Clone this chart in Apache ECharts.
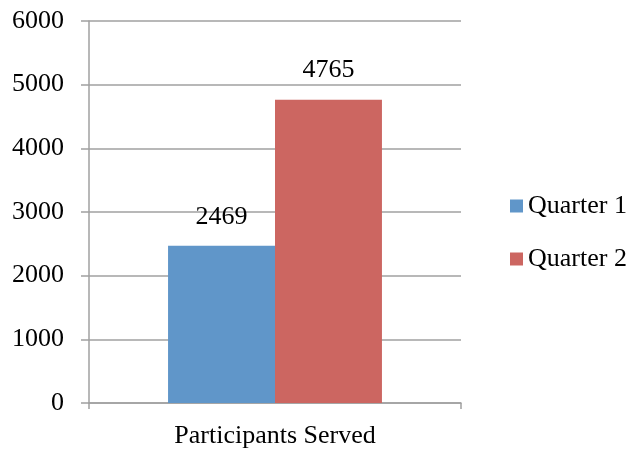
<!DOCTYPE html>
<html>
<head>
<meta charset="utf-8">
<script src="https://cdn.jsdelivr.net/npm/echarts@6/dist/echarts.min.js"></script>
<style>
html,body{margin:0;padding:0;background:#fff;}
#chart{width:633px;height:450px;}
</style>
</head>
<body>
<div id="chart"></div>
<script>
var categories = ['Participants Served'];
var seriesNames = ['Quarter 1', 'Quarter 2'];
var quarter1 = [2469];
var quarter2 = [4765];
var yTicks = [0, 1000, 2000, 3000, 4000, 5000, 6000];

var FONT = "'Liberation Serif', 'Times New Roman', serif";
var GRAY = '#a0a0a0';
var FS = 26;
var chart = echarts.init(document.getElementById('chart'));
chart.setOption({
  animation: false,
  textStyle: {fontFamily: FONT},
  grid: {left: 89, right: 172, top: 21, bottom: 47, containLabel: false},
  legend: {
    orient: 'vertical',
    left: 510,
    top: 192,
    padding: 0,
    itemWidth: 13,
    itemHeight: 13,
    itemGap: 25,
    icon: 'rect',
    textStyle: {fontFamily: FONT, fontSize: FS, color: '#000', lineHeight: 28},
    data: seriesNames
  },
  xAxis: {
    type: 'category',
    data: categories,
    axisLine: {show: true, lineStyle: {color: GRAY, width: 1.5}},
    axisTick: {show: true, length: 6, lineStyle: {color: GRAY, width: 1.5}},
    axisLabel: {fontFamily: FONT, fontSize: FS, color: '#000', margin: 20}
  },
  yAxis: {
    type: 'value',
    min: yTicks[0],
    max: yTicks[yTicks.length - 1],
    interval: yTicks[1] - yTicks[0],
    axisLine: {show: true, lineStyle: {color: GRAY, width: 1.5}},
    axisTick: {show: true, length: 8, lineStyle: {color: GRAY, width: 1.5}},
    splitLine: {show: true, lineStyle: {color: GRAY, width: 1.5}},
    axisLabel: {fontFamily: FONT, fontSize: FS, color: '#000', margin: 25, formatter: function (v) { return String(v); }}
  },
  series: [
    {
      name: seriesNames[0],
      type: 'bar',
      data: quarter1,
      barGap: '0%',
      barCategoryGap: '42.5%',
      itemStyle: {color: '#6096C9'},
      label: {show: true, position: 'top', distance: 16, fontFamily: FONT, fontSize: FS, color: '#000'}
    },
    {
      name: seriesNames[1],
      type: 'bar',
      data: quarter2,
      barGap: '0%',
      barCategoryGap: '42.5%',
      itemStyle: {color: '#CC6661'},
      label: {show: true, position: 'top', distance: 16, fontFamily: FONT, fontSize: FS, color: '#000'}
    }
  ]
});
</script>
</body>
</html>
